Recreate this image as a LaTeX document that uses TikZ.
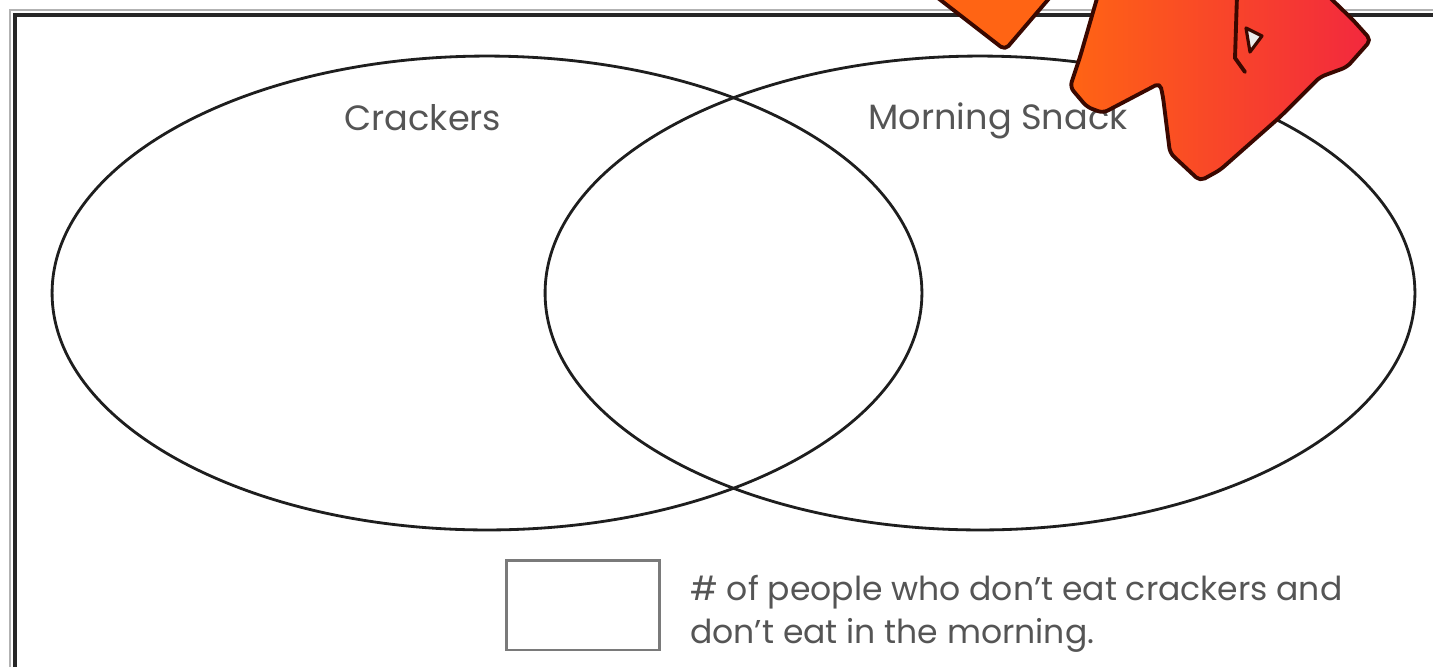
\documentclass[tikz,border=0pt]{standalone}
\usepackage{fontspec}
\setmainfont{Poppins}
\usetikzlibrary{shapes.geometric}
\definecolor{inkline}{HTML}{1E1E1E}
\definecolor{labelgray}{HTML}{555555}
\definecolor{boxgray}{HTML}{7A7A7A}
\definecolor{zorange}{HTML}{FF6414}
\definecolor{zred}{HTML}{F2283E}
\definecolor{zoutline}{HTML}{3A0800}
\tikzset{
  setoval/.style={draw=inkline, line width=1.6pt, ellipse,
    minimum width=17.4cm, minimum height=9.48cm, inner sep=0pt},
  setlabel/.style={text=labelgray, font=\fontsize{20}{24}\selectfont, inner sep=0pt},
  answerbox/.style={draw=boxgray, line width=1.7pt, rectangle,
    minimum width=3.06cm, minimum height=1.8cm, inner sep=0pt},
  notetext/.style={text=labelgray, font=\fontsize{18.8}{24.4}\selectfont,
    align=left, inner sep=0pt},
  burstedge/.style={draw=zoutline, line width=2.2pt, line join=round, rounded corners=3pt},
  burst/.style={burstedge, left color=zorange, right color=zred}
}
\begin{document}
\begin{tikzpicture}[x=0.02cm, y=-0.02cm]
\useasboundingbox (0,0) rectangle (1433,667);
\fill[white] (0,0) rectangle (1433,667);

% page frame (left and top edges with a soft shadow line)
\draw[black!30, line width=1.4pt] (10,667) -- (10,10) -- (1433,10);
\draw[black!85, line width=2.3pt] (15,667) -- (15,15) -- (1433,15);

% the two sets
\node[setoval] (crackers) at (487,293) {};
\node[setoval] (snack) at (980,293) {};
\node[setlabel] (crackerslabel) at (423,118) {Crackers};
\node[setlabel] (snacklabel) at (998,121) {Morning Snack};

% outside-both region
\node[answerbox] (outsidebox) at (583,605) {};
\node[notetext, anchor=north west] (outsidenote) at (690,575)
  {\# of people who don’t eat crackers and\\don’t eat in the morning.};

% cartoon lettering in the top corner
\draw[burstedge, fill=zorange] (925,-12) -- (1005,50) -- (1058,-12) -- cycle;
\draw[burst] (1100,-12) -- (1080,57) -- (1070,87) -- (1087,107) -- (1103,113)
  -- (1160,83) -- (1163,97) -- (1170,153) -- (1200,181) -- (1220,170)
  -- (1280,117) -- (1320,77) -- (1347,67) -- (1371,40) -- (1353,20)
  -- (1320,-12) -- cycle;
\draw[zoutline, line width=2.2pt, line cap=round] (1237,-5) -- (1235,58) -- (1245,72);
\draw[fill=white!85!gray, draw=zoutline, line width=1.8pt, line join=round]
  (1246,28) -- (1262,36) -- (1250,52) -- cycle;
\end{tikzpicture}
\end{document}
